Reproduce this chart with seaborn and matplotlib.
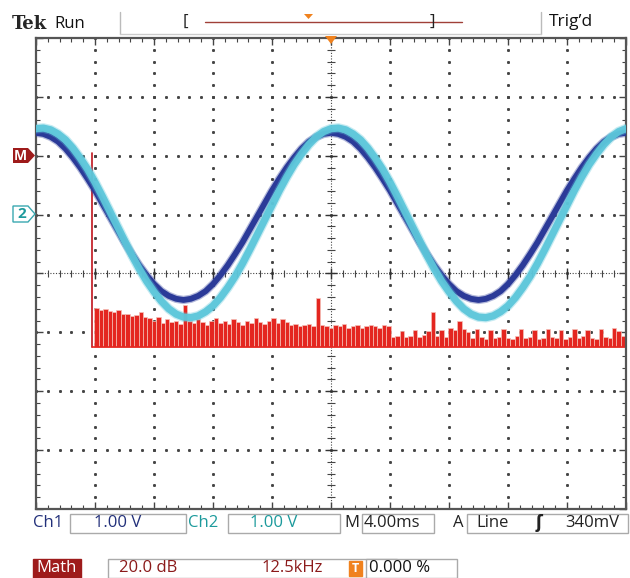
import numpy as np
import pandas as pd
import matplotlib.pyplot as plt
import seaborn as sns
from matplotlib.patches import Polygon, Rectangle
from matplotlib.ticker import MultipleLocator

# scope settings: 4 ms/div, 1 V/div, math FFT 20 dB/div, 12.5 kHz/div
MS_PER_DIV = 4.0
KHZ_PER_DIV = 12.5

# one sample per 0.5 ms, values in screen divisions
time_ms = np.arange(-20, 20.01, 0.5)
ch1_div = [2.39, 2.37, 2.32, 2.24, 2.12, 1.97, 1.80, 1.61, 1.41, 1.19, 0.97,
           0.75, 0.53, 0.33, 0.14, -0.03, -0.18, -0.30, -0.38, -0.43, -0.45,
           -0.43, -0.38, -0.30, -0.18, -0.03, 0.14, 0.33, 0.53, 0.75, 0.97,
           1.19, 1.41, 1.61, 1.80, 1.97, 2.12, 2.24, 2.32, 2.37, 2.39,
           2.37, 2.32, 2.24, 2.12, 1.97, 1.80, 1.61, 1.41, 1.19, 0.97,
           0.75, 0.53, 0.33, 0.14, -0.03, -0.18, -0.30, -0.38, -0.43, -0.45,
           -0.43, -0.38, -0.30, -0.18, -0.03, 0.14, 0.33, 0.53, 0.75, 0.97,
           1.19, 1.41, 1.61, 1.80, 1.97, 2.12, 2.24, 2.32, 2.37, 2.39]
ch2_div = [2.46, 2.47, 2.44, 2.37, 2.27, 2.13, 1.96, 1.77, 1.55, 1.31, 1.06,
           0.81, 0.56, 0.31, 0.08, -0.13, -0.31, -0.47, -0.60, -0.69, -0.74,
           -0.75, -0.72, -0.65, -0.55, -0.41, -0.24, -0.05, 0.17, 0.41, 0.66,
           0.91, 1.16, 1.41, 1.64, 1.85, 2.03, 2.19, 2.32, 2.41, 2.46,
           2.47, 2.44, 2.37, 2.27, 2.13, 1.96, 1.77, 1.55, 1.31, 1.06,
           0.81, 0.56, 0.31, 0.08, -0.13, -0.31, -0.47, -0.60, -0.69, -0.74,
           -0.75, -0.72, -0.65, -0.55, -0.41, -0.24, -0.05, 0.17, 0.41, 0.66,
           0.91, 1.16, 1.41, 1.64, 1.85, 2.03, 2.19, 2.32, 2.41, 2.46]

# math trace (FFT), DC spike then one bar per bin
fft_dc_div = 2.05
fft_floor_div = -1.25
fft_bin_khz = 0.9375
fft_div = [-0.58, -0.62, -0.60,
           -0.63, -0.66, -0.62, -0.68,
           -0.68, -0.72, -0.70, -0.66, -0.74,
           -0.76, -0.80, -0.74, -0.84, -0.78,
           -0.83, -0.80, -0.86, -0.54,
           -0.80, -0.84, -0.78, -0.82, -0.88, -0.80, -0.76, -0.84, -0.80,
           -0.86, -0.78, -0.82, -0.88, -0.80, -0.84, -0.76, -0.82, -0.86,
           -0.80, -0.76, -0.84, -0.78, -0.82,
           -0.88, -0.86, -0.90, -0.88, -0.86, -0.90,
           -0.42,
           -0.88, -0.90, -0.92, -0.88, -0.90, -0.86, -0.92, -0.90, -0.88,
           -0.92, -0.90, -0.88, -0.90, -0.92, -0.88, -0.90,
           -1.08, -1.06, -0.98, -1.08, -1.06, -0.96, -1.08, -1.04, -0.98,
           -0.66, -1.06, -0.96, -1.08,
           -0.92, -0.96, -0.80, -0.94, -1.00,
           -1.10, -0.94, -1.08, -1.12, -0.96, -1.10, -1.08, -0.94, -1.10,
           -1.12, -1.06, -0.94, -1.10, -1.08, -0.96, -1.12, -1.10, -0.94,
           -1.08, -1.10, -0.96, -1.12, -1.08, -0.94, -1.10, -1.06, -0.96,
           -1.10, -1.12, -0.94, -1.08, -1.10, -0.92, -0.98, -1.06]
FFT_ORIGIN_DIV = -4.05

C_CH1 = '#2b3a98'
C_CH2 = '#5cc6da'
C_MATH = '#e42620'
C_MATH_DARK = '#9e1b1b'
C_ORANGE = '#f0821e'

sns.set_style('white')
plt.rcParams['font.family'] = ['Open Sans', 'DejaVu Sans']

W, H = 630, 578
fig = plt.figure(figsize=(W / 100, H / 100), dpi=100)
ax = fig.add_axes([36 / W, 1 - 509 / H, 590 / W, 471 / H])


def px(x, y):
    return x / W, 1 - y / H


# graticule dots
xs = np.arange(-20, 20.01, 0.8)
ys = np.arange(-4, 4.01, 0.2)
for gx in np.arange(-16, 17, 4):
    if gx != 0:
        ax.plot(np.full(len(ys), gx), ys, ls='none', marker='s', ms=1.1, color='#444', zorder=1)
for gy in range(-3, 4):
    if gy != 0:
        ax.plot(xs, np.full(len(xs), gy), ls='none', marker='s', ms=1.1, color='#444', zorder=1)
ax.axhline(0, ls=(0, (1, 1.5)), lw=0.8, color='#444', zorder=1)
ax.axvline(0, ls=(0, (1, 1.5)), lw=0.8, color='#444', zorder=1)
ax.vlines(xs, -0.06, 0.06, color='#444', lw=0.8, zorder=1)
ax.hlines(ys, -0.24, 0.24, color='#444', lw=0.8, zorder=1)
ax.vlines(np.arange(-16, 17, 4), -0.1, 0.1, color='#333', lw=1, zorder=1)
ax.hlines(np.arange(-3, 4), -0.4, 0.4, color='#333', lw=1, zorder=1)

# math trace
fft_x = [(FFT_ORIGIN_DIV + (i + 1) * fft_bin_khz / KHZ_PER_DIV) * MS_PER_DIV for i in range(len(fft_div))]
ax.bar(fft_x, np.array(fft_div) - fft_floor_div, bottom=fft_floor_div, width=0.3,
       color=C_MATH, edgecolor='#f4c0b8', linewidth=0.5, zorder=2)
x_dc = FFT_ORIGIN_DIV * MS_PER_DIV
ax.plot([x_dc, x_dc], [fft_floor_div, fft_dc_div], color='#c0141c', lw=1.2, zorder=2)
ax.plot([x_dc, 20], [fft_floor_div, fft_floor_div], color=C_MATH, lw=1.2, zorder=2)

# channel traces (soft halo stands in for the trace noise)
df = pd.DataFrame({'t': time_ms, 'ch1': ch1_div, 'ch2': ch2_div})
sns.lineplot(data=df, x='t', y='ch1', ax=ax, color=C_CH1, lw=6, alpha=0.35, zorder=3)
sns.lineplot(data=df, x='t', y='ch1', ax=ax, color=C_CH1, lw=4.2, zorder=3)
sns.lineplot(data=df, x='t', y='ch2', ax=ax, color=C_CH2, lw=7, alpha=0.35, zorder=4)
sns.lineplot(data=df, x='t', y='ch2', ax=ax, color=C_CH2, lw=5.2, alpha=0.95, zorder=4)

ax.set_xlim(-20, 20)
ax.set_ylim(-4, 4)
ax.xaxis.set_major_locator(MultipleLocator(4))
ax.xaxis.set_minor_locator(MultipleLocator(0.8))
ax.yaxis.set_major_locator(MultipleLocator(1))
ax.yaxis.set_minor_locator(MultipleLocator(0.2))
ax.tick_params(which='both', direction='in', top=True, right=True, bottom=True, left=True,
               labelbottom=False, labelleft=False, color='#444')
ax.tick_params(which='major', length=5, width=1)
ax.tick_params(which='minor', length=3, width=0.8)
ax.set_xlabel('')
ax.set_ylabel('')
for s in ax.spines.values():
    s.set_color('#555')
    s.set_linewidth(1.6)

# trigger position marker
fig.patches.append(Polygon([px(325, 36), px(337, 36), px(331, 44)], closed=True,
                           transform=fig.transFigure, facecolor=C_ORANGE, edgecolor='none', zorder=10))

# left reference markers
fig.patches.append(Polygon([px(13, 148), px(28, 148), px(35, 155.5), px(28, 163), px(13, 163)],
                           closed=True, transform=fig.transFigure, facecolor=C_MATH_DARK, edgecolor='none'))
fig.text(*px(20, 156), 'M', color='white', fontsize=10, fontweight='bold', ha='center', va='center')
fig.patches.append(Polygon([px(13, 206), px(28, 206), px(35, 214), px(28, 222), px(13, 222)],
                           closed=True, transform=fig.transFigure, facecolor='white', edgecolor='#3aa8b0', lw=1))
fig.text(*px(22, 214), '2', color='#1e9a9c', fontsize=11, fontweight='bold', ha='center', va='center')

# top status bar
fig.text(*px(12, 24), 'Tek', family='DejaVu Serif', fontweight='bold', fontsize=13, va='center')
fig.text(*px(54, 24), 'Run', fontsize=12, va='center', color='#111')
fig.lines.append(plt.Line2D([px(120, 0)[0]] * 2, [px(0, 12)[1], px(0, 34)[1]], transform=fig.transFigure, color='#bbb', lw=1))
fig.lines.append(plt.Line2D([px(541, 0)[0]] * 2, [px(0, 12)[1], px(0, 34)[1]], transform=fig.transFigure, color='#bbb', lw=1))
fig.lines.append(plt.Line2D([px(120, 0)[0], px(541, 0)[0]], [px(0, 34)[1]] * 2, transform=fig.transFigure, color='#ccc', lw=1))
fig.text(*px(183, 22), '[', fontsize=12, va='center', color='#222')
fig.text(*px(430, 22), ']', fontsize=12, va='center', color='#222')
fig.lines.append(plt.Line2D([px(205, 0)[0], px(462, 0)[0]], [px(0, 22)[1]] * 2, transform=fig.transFigure, color='#a04038', lw=1))
fig.patches.append(Polygon([px(304, 14), px(313, 14), px(308.5, 19)], closed=True,
                           transform=fig.transFigure, facecolor=C_ORANGE, edgecolor='none'))
fig.text(*px(549, 22), "Trig\u2019d", fontsize=12.5, va='center', color='#111')


def box(x0, x1, y0, y1, fc='white', ec='#aaa'):
    fig.patches.append(Rectangle(px(x0, y1), (x1 - x0) / W, (y1 - y0) / H,
                                 transform=fig.transFigure, facecolor=fc, edgecolor=ec, lw=1))


# channel readout row
FS = 12
box(70, 186, 514, 533)
box(228, 340, 514, 533)
box(362, 434, 514, 533)
box(467, 628, 514, 533)
fig.text(*px(33, 523), 'Ch1', fontsize=FS, va='center', color='#22307a')
fig.text(*px(94, 523), '1.00 V', fontsize=FS, va='center', color='#22307a')
fig.text(*px(188, 523), 'Ch2', fontsize=FS, va='center', color='#1c9a9c')
fig.text(*px(250, 523), '1.00 V', fontsize=FS, va='center', color='#1c9a9c')
fig.text(*px(344, 523), 'M', fontsize=FS, va='center', color='#222')
fig.text(*px(364, 523), '4.00ms', fontsize=FS, va='center', color='#222')
fig.text(*px(453, 523), 'A', fontsize=FS, va='center', color='#222')
fig.text(*px(476, 523), 'Line', fontsize=FS, va='center', color='#222')
fig.text(*px(536, 523), '\u0283', fontsize=FS, va='center', color='#222', family=['DejaVu Sans'], fontweight='bold')
fig.text(*px(565, 523), '340mV', fontsize=FS, va='center', color='#222')

# math readout row
box(33, 81, 559, 578, fc=C_MATH_DARK, ec=C_MATH_DARK)
fig.text(*px(57, 568), 'Math', fontsize=FS, va='center', ha='center', color='white')
box(108, 397, 559, 578)
fig.text(*px(119, 568), '20.0 dB', fontsize=FS, va='center', color='#8b1a1a')
fig.text(*px(262, 568), '12.5kHz', fontsize=FS, va='center', color='#8b1a1a')
box(349, 362, 561, 576, fc=C_ORANGE, ec=C_ORANGE)
fig.text(*px(355.5, 568.5), 'T', fontsize=9, va='center', ha='center', color='white', fontweight='bold')
box(366, 457, 559, 578)
fig.text(*px(369, 568), '0.000 %', fontsize=FS, va='center', color='#111')

fig.savefig('out.png', dpi=100)
